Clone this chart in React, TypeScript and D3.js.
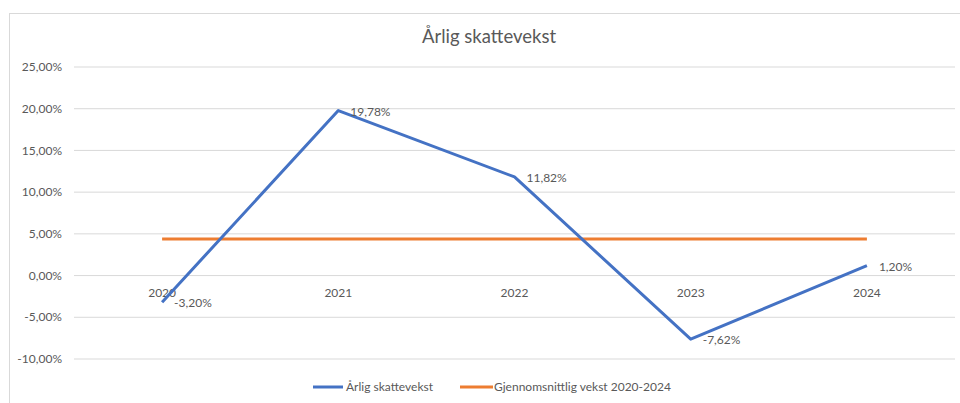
import React from "react";
import * as d3 from "d3";

const categories = ["2020", "2021", "2022", "2023", "2024"];
const annualGrowth = [-3.2, 19.78, 11.82, -7.62, 1.2];
const averageGrowth = [4.396, 4.396, 4.396, 4.396, 4.396];
const yTicks = [-10, -5, 0, 5, 10, 15, 20, 25];
const title = "Årlig skattevekst";
const seriesNames = ["Årlig skattevekst", "Gjennomsnittlig vekst 2020-2024"];

const W = 960;
const H = 403;
const FONT = "Lato, 'Open Sans', sans-serif";
const TXT = "#595959";

const fmt = (v: number) => v.toFixed(2).replace(".", ",") + "%";

export default function App() {
  const x = d3.scaleBand<string>().domain(categories).range([74, 955]);
  const y = d3.scaleLinear().domain([-10, 25]).range([359, 67]);
  const cx = (c: string) => (x(c) as number) + x.bandwidth() / 2;

  const line = d3
    .line<number>()
    .x((_, i) => cx(categories[i]))
    .y((d) => y(d));

  return (
    <svg
      width={W}
      height={H}
      style={{ position: "absolute", left: 0, top: 0, background: "#fff" }}
      fontFamily={FONT}
    >
      <rect x={9.5} y={13.5} width={980} height={420} fill="#fff" stroke="#d9d9d9" />
      <text x={489} y={43} textAnchor="middle" fontSize={18.5} fill={TXT}>
        {title}
      </text>
      {yTicks.map((t) => (
        <g key={t}>
          <line x1={74} x2={955} y1={y(t)} y2={y(t)} stroke="#d9d9d9" strokeWidth={1} />
          <text x={62} y={y(t)} dy="0.35em" textAnchor="end" fontSize={12} fill={TXT}>
            {fmt(t)}
          </text>
        </g>
      ))}
      {categories.map((c) => (
        <text key={c} x={cx(c)} y={y(0) + 17} dy="0.35em" textAnchor="middle" fontSize={12} fill={TXT}>
          {c}
        </text>
      ))}
      <path d={line(averageGrowth) as string} fill="none" stroke="#ED7D31" strokeWidth={3} />
      <path
        d={line(annualGrowth) as string}
        fill="none"
        stroke="#4472C4"
        strokeWidth={3}
        strokeLinejoin="round"
      />
      {annualGrowth.map((v, i) => (
        <text
          key={i}
          x={cx(categories[i]) + 12}
          y={y(v) + 1}
          dy="0.35em"
          fontSize={12}
          fill={TXT}
        >
          {fmt(v)}
        </text>
      ))}
      <g>
        <line x1={313} x2={343} y1={387} y2={387} stroke="#4472C4" strokeWidth={3} />
        <text x={346} y={387} dy="0.35em" fontSize={12} fill={TXT}>
          {seriesNames[0]}
        </text>
        <line x1={460} x2={493} y1={387} y2={387} stroke="#ED7D31" strokeWidth={3} />
        <text x={494} y={387} dy="0.35em" fontSize={12} fill={TXT}>
          {seriesNames[1]}
        </text>
      </g>
    </svg>
  );
}
